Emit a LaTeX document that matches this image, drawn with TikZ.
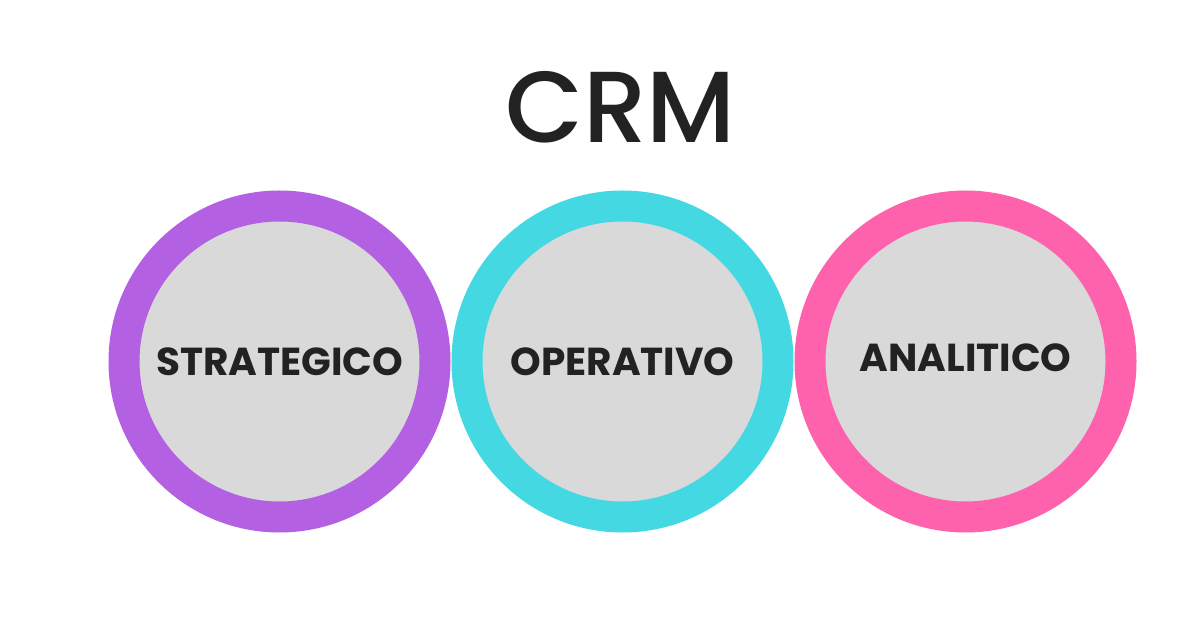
\documentclass[tikz,border=0pt]{standalone}
\usepackage{fontspec}
\setmainfont{Poppins}
\newfontfamily\crmfont{Poppins Medium}
\usepackage{xcolor}
\usetikzlibrary{positioning}

\definecolor{crmpurple}{HTML}{B360E2}
\definecolor{crmcyan}{HTML}{44D8E3}
\definecolor{crmpink}{HTML}{FF62AD}
\definecolor{crmgray}{HTML}{D9D9D9}
\definecolor{crmtext}{HTML}{222222}

\begin{document}
\begin{tikzpicture}[
  x=1pt, y=1pt,
  ring/.style={circle, draw, line width=31pt, fill=crmgray, minimum size=311pt, inner sep=0pt, text=crmtext, font=\fontsize{39}{42}\selectfont\bfseries},
  title/.style={text=crmtext, font=\crmfont\fontsize{101}{110}\selectfont, inner sep=0pt},
]
\useasboundingbox[fill=white] (0,0) rectangle (1200,630);
\node[title] (crm) at (620.5,522.5) {CRM};
\node[ring, draw=crmpurple] (strat) at (279.5,268.5) {STRATEGICO};
\node[ring, draw=crmcyan, right=1pt of strat] (oper) {OPERATIVO};
\node[ring, draw=crmpink, right=1pt of oper] (anal) {\raisebox{8pt}{ANALITICO}};
\end{tikzpicture}
\end{document}
